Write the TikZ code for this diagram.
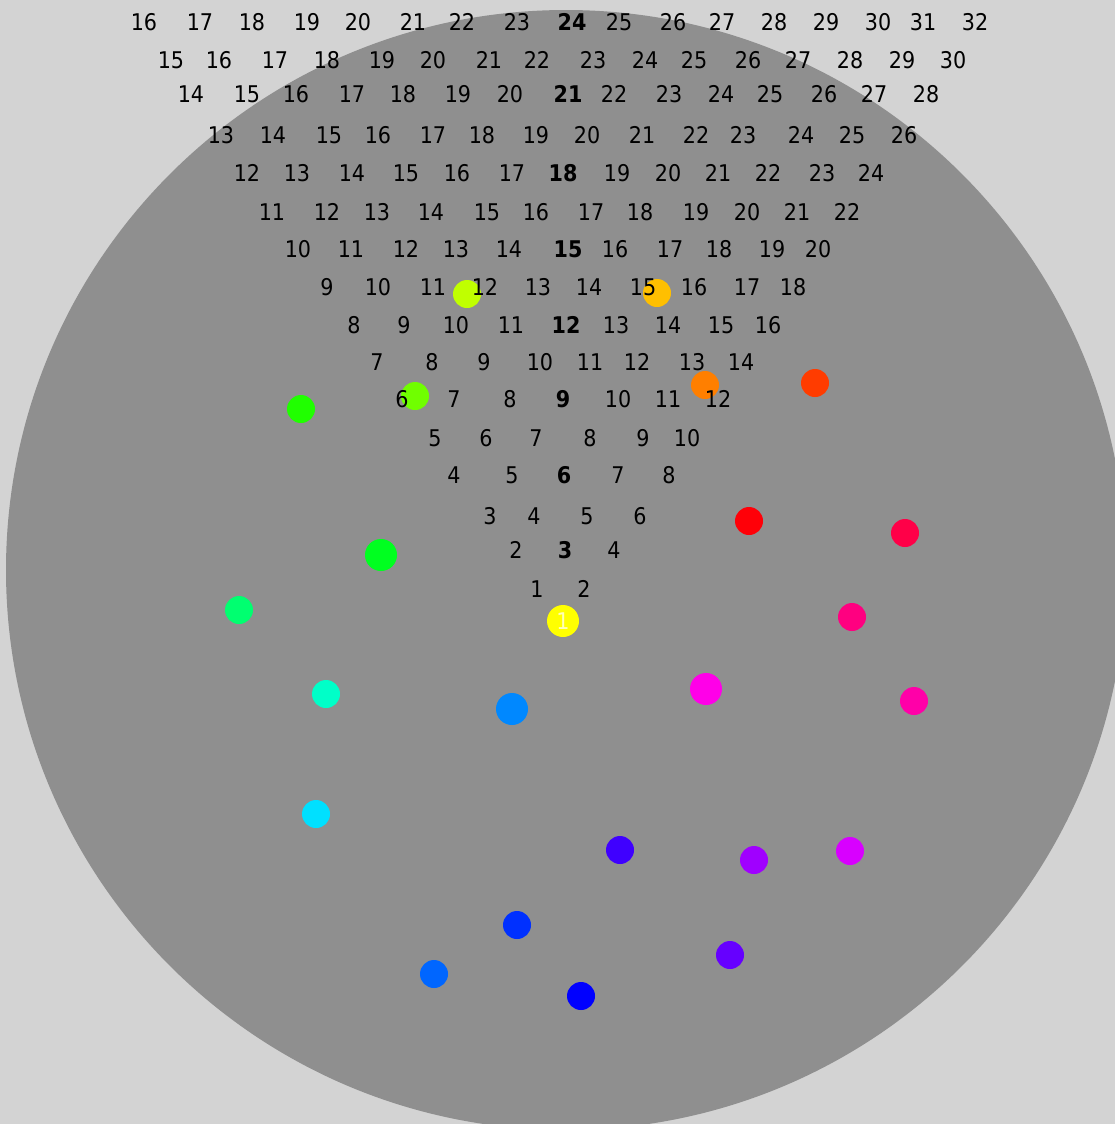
\documentclass[tikz,border=0pt]{standalone}
\usepackage{fontspec}
\setmainfont{DejaVu Sans Condensed}
\usepackage{tikz}
\definecolor{pagegray}{HTML}{D3D3D3}
\definecolor{diskgray}{HTML}{8F8F8F}
\definecolor{hue000}{HTML}{FF0008}
\definecolor{hue015}{HTML}{FF3C00}
\definecolor{hue030}{HTML}{FF7F00}
\definecolor{hue045}{HTML}{FFBF00}
\definecolor{hue060}{HTML}{FFFF00}
\definecolor{hue075}{HTML}{C0FF00}
\definecolor{hue090}{HTML}{70FF00}
\definecolor{hue105}{HTML}{20FF00}
\definecolor{hue120}{HTML}{00FF20}
\definecolor{hue135}{HTML}{00FF70}
\definecolor{hue150}{HTML}{00FFC8}
\definecolor{hue165}{HTML}{00E0FF}
\definecolor{hue180}{HTML}{0088FF}
\definecolor{hue195}{HTML}{0066FF}
\definecolor{hue210}{HTML}{0030FF}
\definecolor{hue225}{HTML}{0000FF}
\definecolor{hue240}{HTML}{3F00FF}
\definecolor{hue255}{HTML}{6600FF}
\definecolor{hue270}{HTML}{A000FF}
\definecolor{hue285}{HTML}{D800FF}
\definecolor{hue300}{HTML}{FF00E8}
\definecolor{hue315}{HTML}{FF00A8}
\definecolor{hue330}{HTML}{FF0080}
\definecolor{hue345}{HTML}{FF0048}
\definecolor{dotlabel}{HTML}{FFFFB8}

\begin{document}
\begin{tikzpicture}[x=1bp,y=-1bp,inner sep=0pt,outer sep=0pt,
    num/.style={text=black,font=\fontsize{23bp}{27bp}\selectfont},
    dot/.style={circle,minimum size=28bp},
    bigdot/.style={circle,minimum size=32bp}]
  \useasboundingbox (0,0) rectangle (1115,1124);
  \clip (0,0) rectangle (1115,1124);
  \fill[fill=pagegray] (0,0) rectangle (1115,1124);
  \fill[fill=diskgray] (566,570) circle (560);
  % dots
  \node[dot,fill=hue000] (d000) at (749,521) {};
  \node[dot,fill=hue015] (d015) at (815,383) {};
  \node[dot,fill=hue030] (d030) at (705,385) {};
  \node[dot,fill=hue045] (d045) at (657,293) {};
  \node[dot,fill=hue075] (d075) at (467,294) {};
  \node[dot,fill=hue090] (d090) at (415,396) {};
  \node[dot,fill=hue105] (d105) at (301,409) {};
  \node[bigdot,fill=hue120] (d120) at (381,555) {};
  \node[dot,fill=hue135] (d135) at (239,610) {};
  \node[dot,fill=hue150] (d150) at (326,694) {};
  \node[dot,fill=hue165] (d165) at (316,814) {};
  \node[bigdot,fill=hue180] (d180) at (512,709) {};
  \node[dot,fill=hue195] (d195) at (434,974) {};
  \node[dot,fill=hue210] (d210) at (517,925) {};
  \node[dot,fill=hue225] (d225) at (581,996) {};
  \node[dot,fill=hue240] (d240) at (620,850) {};
  \node[dot,fill=hue255] (d255) at (730,955) {};
  \node[dot,fill=hue270] (d270) at (754,860) {};
  \node[dot,fill=hue285] (d285) at (850,851) {};
  \node[bigdot,fill=hue300] (d300) at (706,689) {};
  \node[dot,fill=hue315] (d315) at (914,701) {};
  \node[dot,fill=hue330] (d330) at (852,617) {};
  \node[dot,fill=hue345] (d345) at (905,533) {};
  \node[bigdot,fill=hue060,text=dotlabel,font=\fontsize{23bp}{27bp}\selectfont] (d060) at (563,621) {1};
  % rows n .. 2n, bold at 3n/2
  \foreach \n/\y/\xs in {
      1/589/{537,584},
      2/550/{516,565,614},
      3/516/{490,534,587,640},
      4/475/{454,512,564,618,669},
      5/438/{435,486,536,590,643,687},
      6/399/{402,454,510,563,618,668,718},
      7/362/{377,432,484,540,590,637,692,741},
      8/325/{354,404,456,511,566,616,668,721,768},
      9/287/{327,378,433,485,538,589,643,694,747,793},
      10/249/{298,351,406,456,509,568,615,670,719,772,818},
      11/212/{272,327,377,431,487,536,591,640,696,747,797,847},
      12/173/{247,297,352,406,457,512,563,617,668,718,768,822,871},
      13/135/{221,273,329,378,433,482,536,587,642,696,743,801,852,904},
      14/94/{191,247,296,352,403,458,510,568,614,669,721,770,824,874,926},
      15/60/{171,219,275,327,382,433,489,537,593,645,694,748,798,850,902,953},
      16/22/{144,200,252,307,358,413,462,517,572,619,673,722,774,826,878,923,975}}{
    \pgfmathtruncatemacro\mid{ifthenelse(mod(\n,2)==0,3*\n/2,0)}
    \foreach \x [count=\k from \n] in \xs
      \node[num] (n\n-\k) at (\x,\y) {\ifnum\k=\mid\relax\textbf{\k}\else\k\fi};
  }
\end{tikzpicture}
\end{document}
